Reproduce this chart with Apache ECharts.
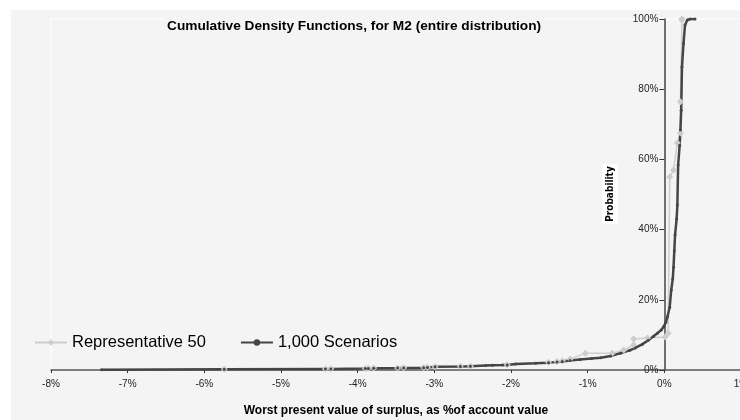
<!DOCTYPE html>
<html><head><meta charset="utf-8">
<script src="https://cdn.jsdelivr.net/npm/echarts@6/dist/echarts.min.js"></script>
<style>html,body{margin:0;padding:0;background:#fff}#c{width:740px;height:420px}</style>
</head><body><div id="c"></div>
<script>
const titleText = "Cumulative Density Functions, for M2 (entire distribution)";
const xAxisTitle = "Worst present value of surplus, as %of account value";
const yAxisTitle = "Probability";
const seriesNames = ["Representative 50", "1,000 Scenarios"];

const xTicks = {min: -8, max: 1, interval: 1};
const yTicks = {min: 0, max: 100, interval: 20};

// Representative 50 (x = surplus %, y = cumulative probability %)
const rep50X = [-5.74, -4.42, -4.35, -3.90, -3.86, -3.79, -3.48, -3.40, -3.14, -3.09, -2.99, -2.66, -2.53, -2.05, -1.51, -1.40, -1.33, -1.23, -1.03, -0.68, -0.53, -0.40, -0.40, -0.22, 0.01, 0.05, 0.07, 0.12, 0.17, 0.21, 0.21, 0.23, 0.23];
const rep50Y = [0.2, 0.3, 0.35, 0.45, 0.5, 0.55, 0.6, 0.65, 0.7, 0.75, 0.9, 1.05, 1.1, 1.5, 2.2, 2.4, 2.6, 3.1, 4.8, 4.8, 5.7, 7.1, 8.8, 9.1, 9.4, 10.5, 55, 57, 64.7, 67.5, 76.4, 99.7, 100];

// 1,000 Scenarios
const scen1000X = [-7.34, -5.74, -4.42, -4.35, -3.90, -3.86, -3.79, -3.48, -3.40, -3.14, -3.09, -2.99, -2.66, -2.53, -2.33, -2.24, -2.11, -2.05, -1.94, -1.68, -1.51, -1.40, -1.33, -1.23, -1.10, -0.95, -0.83, -0.70, -0.57, -0.45, -0.38, -0.29, -0.21, -0.14, -0.09, -0.04, -0.01, 0.02, 0.04, 0.07, 0.09, 0.11, 0.12, 0.13, 0.14, 0.16, 0.17, 0.18, 0.20, 0.21, 0.22, 0.23, 0.25, 0.27, 0.30, 0.34, 0.40];
const scen1000Y = [0.1, 0.2, 0.3, 0.3, 0.4, 0.45, 0.5, 0.55, 0.6, 0.65, 0.7, 0.9, 1.0, 1.05, 1.3, 1.35, 1.4, 1.45, 1.7, 1.9, 2.1, 2.3, 2.4, 2.7, 3.0, 3.3, 3.5, 4.0, 4.8, 5.6, 6.3, 7.3, 8.5, 9.6, 10.5, 11.4, 12.3, 13.6, 15.1, 17.9, 22.8, 26.0, 29.3, 34, 38.5, 43, 47, 58.4, 64, 68.4, 74, 86.3, 93, 98.3, 99.7, 100, 100];

const zip = (a, b) => a.map((v, i) => [v, b[i]]);
const FONT = "Liberation Sans, Arial, sans-serif";

const GRID_LEFT = 51, GRID_WIDTH = 690;
// y axis sits at x = 0 of the x scale
const yAxisOffset = -GRID_WIDTH * (0 - xTicks.min) / (xTicks.max - xTicks.min);

const chart = echarts.init(document.getElementById('c'), null, {renderer: 'canvas'});
chart.setOption({
  animation: false,
  backgroundColor: '#ffffff',
  graphic: [
    {type: 'rect', z: -10, silent: true, shape: {x: 11, y: 10, width: 729, height: 410}, style: {fill: '#f4f4f4'}},
    {type: 'text', z: 10, x: 610, y: 194, rotation: Math.PI / 2,
     style: {text: yAxisTitle, font: 'bold 10px "DejaVu Sans Condensed", sans-serif', fill: '#000',
             align: 'center', verticalAlign: 'middle', backgroundColor: '#ffffff', padding: [3, 2, 3, 2]}}
  ],
  title: {
    text: titleText, left: 165, top: 17,
    backgroundColor: '#f4f4f4', padding: [2, 2, 2, 2],
    textStyle: {fontFamily: FONT, fontSize: 13.7, fontWeight: 'bold', color: '#000'}
  },
  legend: {
    left: 29, top: 329, itemWidth: 32, itemHeight: 8, itemGap: 34,
    textStyle: {fontFamily: FONT, fontSize: 16.5, color: '#000'},
    data: seriesNames
  },
  grid: {left: GRID_LEFT, top: 19, width: GRID_WIDTH, height: 351, outerBoundsMode: 'none', containLabel: false,
         show: true, borderColor: '#ffffff', borderWidth: 1, backgroundColor: 'transparent'},
  xAxis: {
    type: 'value', min: xTicks.min, max: xTicks.max, interval: xTicks.interval,
    name: xAxisTitle, nameLocation: 'middle', nameGap: 35,
    nameTextStyle: {fontFamily: FONT, fontSize: 12, fontWeight: 'bold', color: '#000'},
    axisLine: {lineStyle: {color: '#555', width: 1.5}},
    axisTick: {show: true, inside: false, length: 3, lineStyle: {color: '#333'}},
    axisLabel: {formatter: '{value}%', fontFamily: FONT, fontSize: 10, color: '#222', margin: 9},
    splitLine: {show: false}
  },
  yAxis: {
    type: 'value', min: yTicks.min, max: yTicks.max, interval: yTicks.interval,
    offset: yAxisOffset,
    axisLine: {onZero: false, lineStyle: {color: '#444', width: 1.5}},
    axisTick: {show: true, inside: false, length: 5, lineStyle: {color: '#333'}},
    axisLabel: {formatter: '{value}%', fontFamily: FONT, fontSize: 10, color: '#222', margin: 6},
    splitLine: {show: false}
  },
  series: [
    {name: seriesNames[0], type: 'line', data: zip(rep50X, rep50Y),
     symbol: 'diamond', symbolSize: 7, showAllSymbol: true,
     lineStyle: {color: '#cdcdcd', width: 1.5}, itemStyle: {color: '#cdcdcd'}},
    {name: seriesNames[1], type: 'line', data: zip(scen1000X, scen1000Y),
     symbol: 'circle', symbolSize: 3, showAllSymbol: true,
     lineStyle: {color: '#454545', width: 2.5}, itemStyle: {color: '#454545'}}
  ]
});
</script></body></html>
